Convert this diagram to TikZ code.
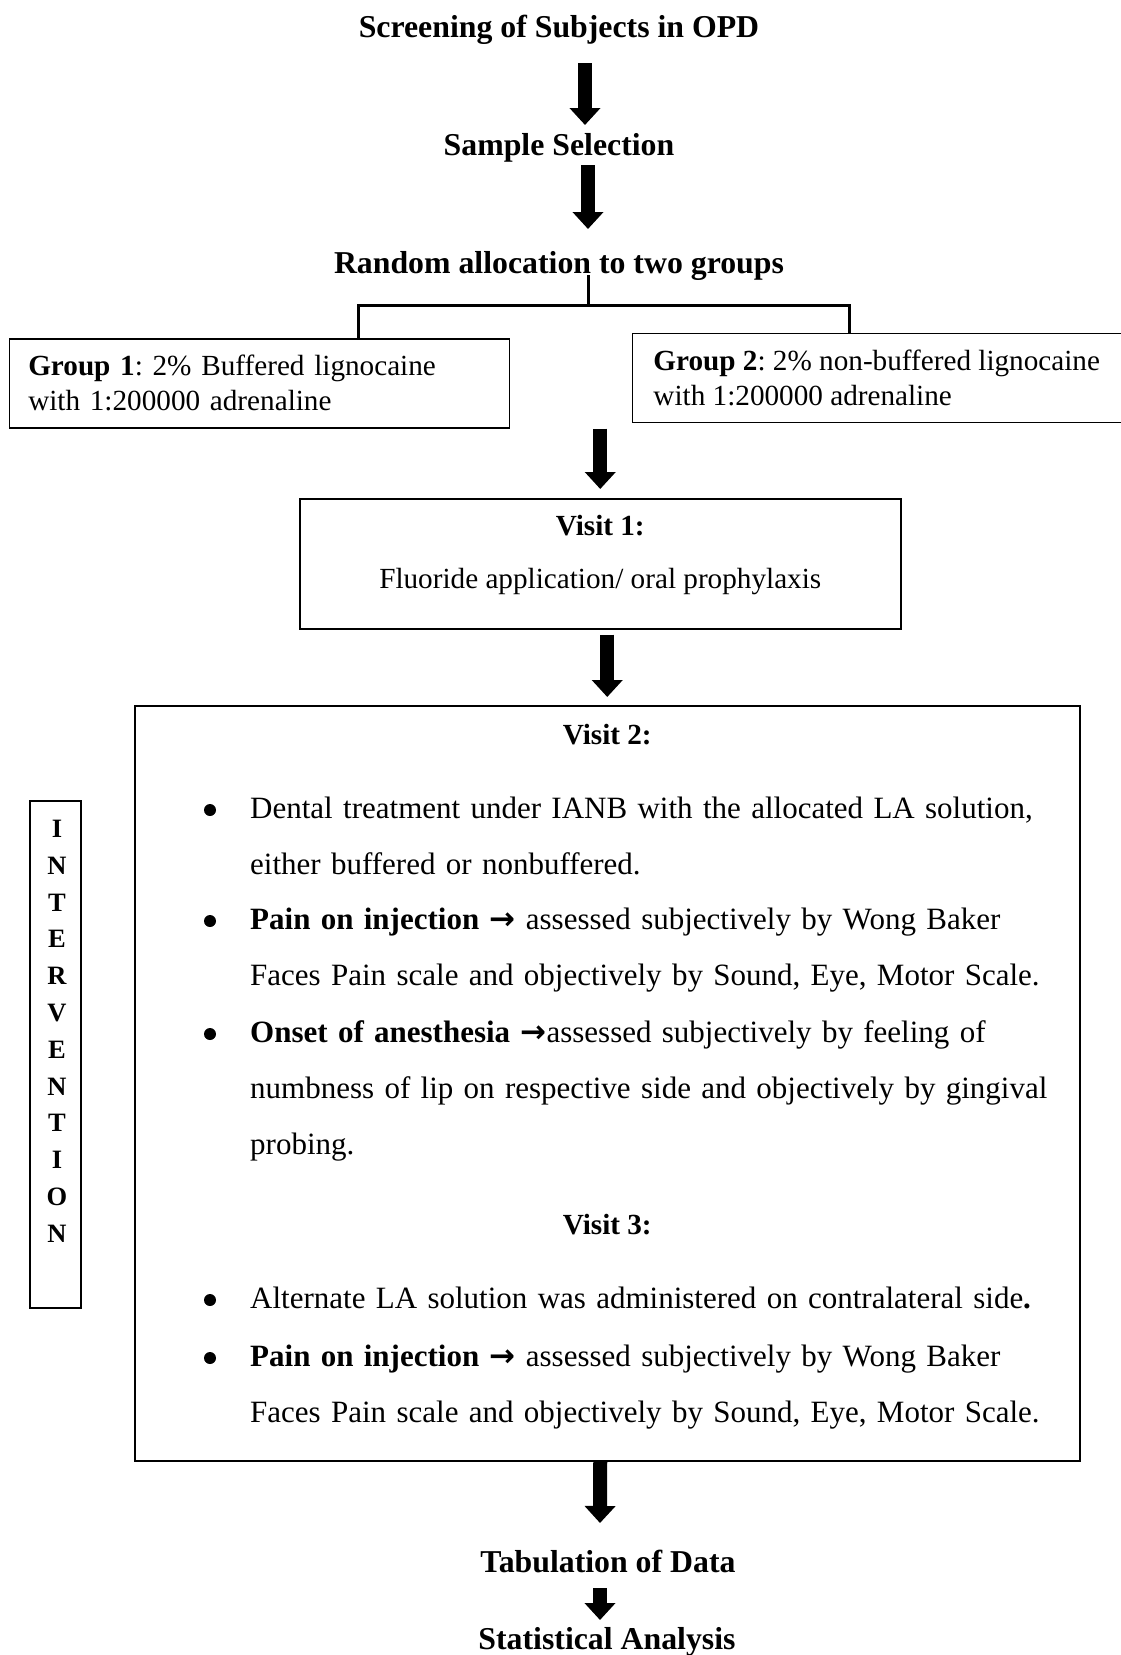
\documentclass[tikz,border=0pt]{standalone}
\usepackage{fontspec}
\setmainfont{Liberation Serif}
\newfontfamily\arrowfont{DejaVu Sans}
\usetikzlibrary{calc,arrows.meta}
\frenchspacing
\newcommand{\headfont}{\fontsize{31.8}{38}\selectfont\bfseries}
\newcommand{\boxfont}{\fontsize{29.2}{35}\selectfont}
\newcommand{\listfont}{\fontsize{31}{56}\selectfont}
\newcommand{\sidefont}{\fontsize{26.5}{36.8}\selectfont\bfseries}
\newcommand{\pointer}{{\arrowfont\bfseries →}}
\newcommand{\bulitem}[3]{\fill (210,#2-8) circle (6);
  \node[itemtext] (#1) at (250,#2) {#3};}
\tikzset{
  heading/.style={anchor=base, font=\headfont, inner sep=0pt},
  boxed/.style={draw, line width=1.5pt, inner sep=0pt, anchor=north west},
  grptext/.style={boxed, font=\boxfont, align=left, inner xsep=19pt, minimum height=89pt},
  itemtext/.style={anchor=base west, font=\listfont, align=left, text width=820pt, inner sep=0pt},
  blockarrow/.style={line width=14pt, -{Triangle[width=30pt,length=17pt]}},
  bracket/.style={line width=3pt}
}

\begin{document}
\begin{tikzpicture}[x=1pt,y=-1pt]
    \useasboundingbox (0,0) rectangle (1121,1655);

    \node[heading] (screen) at (559,37) {Screening of Subjects in OPD};
    \node[heading] (sample) at (559,155) {Sample Selection};
    \node[heading] (random) at (559,273) {Random allocation to two groups};

    \node[grptext, text width=462pt] (group1) at (8.5,338)
      {\textbf{Group 1}: 2\% Buffered lignocaine\\with 1:200000 adrenaline};
    \node[grptext, minimum width=489pt] (group2) at (631.5,332.5)
      {\textbf{Group 2}: 2\% non-buffered lignocaine\\with 1:200000 adrenaline};

    % visit 1
    \node[boxed, minimum width=601pt, minimum height=130pt] (visit1) at (299,498) {};
    \node[anchor=base, font=\boxfont\bfseries] (v1head) at ($(visit1.north)+(0,37)$) {Visit 1:};
    \node[anchor=base, font=\boxfont] (v1text) at ($(visit1.north)+(0,90)$) {Fluoride application/ oral prophylaxis};

    % visit 2 and 3
    \node[boxed, minimum width=945pt, minimum height=755pt] (bigbox) at (134,705) {};
    \node[boxed, minimum width=51pt, minimum height=507pt] (sidebox) at (29,800) {};
    \node[anchor=base, font=\sidefont, align=center, text width=40pt, inner sep=0pt] (sidetext)
      at (57,837.5) {I\\N\\T\\E\\R\\V\\E\\N\\T\\I\\O\\N};

    \node[anchor=base, font=\boxfont\bfseries] (v2head) at ($(bigbox.north)+(0,39)$) {Visit 2:};
    \bulitem{dental}{818}{Dental treatment under IANB with the allocated LA solution,\\either buffered or nonbuffered.}
    \bulitem{painA}{929}{\textbf{Pain on injection} \pointer\ assessed subjectively by Wong Baker\\Faces Pain scale and objectively by Sound, Eye, Motor Scale.}
    \bulitem{onset}{1042}{\textbf{Onset of anesthesia} \pointer assessed subjectively by feeling of\\numbness of lip on respective side and objectively by gingival\\probing.}

    \node[anchor=base, font=\boxfont\bfseries] (v3head) at ($(bigbox.north)+(0,529)$) {Visit 3:};
    \bulitem{altern}{1308}{Alternate LA solution was administered on contralateral side\textbf{.}}
    \bulitem{painB}{1366}{\textbf{Pain on injection} \pointer\ assessed subjectively by Wong Baker\\Faces Pain scale and objectively by Sound, Eye, Motor Scale.}

    \node[heading] (tabul) at (608,1572) {Tabulation of Data};
    \node[heading] (stats) at (607,1649) {Statistical Analysis};

    % connectors
    \draw[blockarrow] ($(screen.base)+(26,26)$) -- ($(sample.base)+(26,-30)$);
    \draw[blockarrow] ($(sample.base)+(29,10)$) -- ($(random.base)+(29,-44)$);
    \coordinate (split) at (588,305);
    \draw[bracket] ($(random.base)+(29,2)$) -- (split);
    \draw[bracket] ($(group1.north west)+(350,0)$) |- (split) -| ($(group2.north west)+(218,0)$);
    \draw[blockarrow, shorten >=9pt] (group1.south -| visit1.north) -- (visit1.north);
    \draw[blockarrow, shorten <=5pt, shorten >=8pt] (visit1.south -| bigbox.north) -- (bigbox.north);
    \draw[blockarrow] ($(bigbox.south)+(-7,0)$) -- ($(tabul.base)+(-8,-49)$);
    \draw[blockarrow] ($(tabul.base)+(-8,16)$) -- ($(stats.base)+(-7,-29)$);
\end{tikzpicture}
\end{document}
